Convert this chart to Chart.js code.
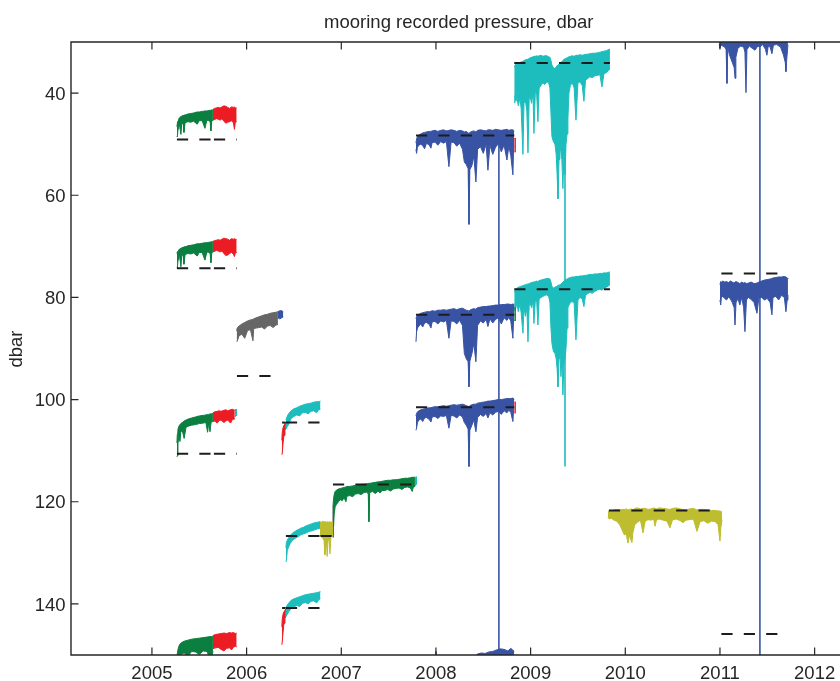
<!DOCTYPE html>
<html><head><meta charset="utf-8">
<script src="https://cdn.jsdelivr.net/npm/chart.js@4.4.0/dist/chart.umd.min.js"></script>
<style>html,body{margin:0;padding:0;background:#fff;overflow:hidden}canvas{display:block}</style>
</head><body>
<canvas id="c" width="840" height="681"></canvas>
<script>
// ---------- labels / ticks ----------
const titleText = 'mooring recorded pressure, dbar';
const yLabel = 'dbar';
const yearTicks = [2005, 2006, 2007, 2008, 2009, 2010, 2011, 2012];
const dbarTicks = [40, 60, 80, 100, 120, 140];

// ---------- 2005 deployment (green -> red) ----------
const tA12g = [2005.264,2005.268,2005.276,2005.284,2005.292,2005.306,2005.315,2005.330,2005.338,2005.350,2005.380,2005.410,2005.440,2005.478,2005.500,2005.530,2005.560,2005.580,2005.600,2005.615,2005.623,2005.632,2005.644];
const hiA1g = [46.6,45.9,45.4,45.0,44.8,44.6,44.5,44.4,44.3,44.3,44.1,44.0,43.9,43.7,43.7,43.6,43.5,43.5,43.4,43.4,43.3,43.3,43.3];
const loA1g = [48.5,48.6,47.0,46.6,46.2,48.1,46.0,45.9,47.7,45.8,45.6,45.7,45.5,46.1,45.4,45.4,46.9,45.3,45.4,45.6,47.4,45.5,45.3];
const hiA2g = [71.4,71.1,70.9,70.7,70.5,70.4,70.3,70.2,70.1,70.1,69.9,69.8,69.7,69.5,69.5,69.4,69.3,69.3,69.2,69.2,69.1,69.1,69.1];
const loA2g = [74.2,74.3,72.6,72.2,71.9,74.0,71.8,71.7,73.5,71.6,71.4,71.5,71.3,71.9,71.2,71.2,72.7,71.1,71.2,71.4,73.2,71.3,71.1];
const tA12r = [2005.644,2005.660,2005.680,2005.700,2005.720,2005.740,2005.760,2005.780,2005.800,2005.820,2005.840,2005.860,2005.872,2005.880,2005.895];
const hiA1r = [43.2,43.0,42.9,42.8,42.9,42.7,42.5,42.6,42.8,43.0,42.7,42.8,42.7,42.9,42.9];
const loA1r = [45.3,45.2,45.0,45.1,45.3,45.0,45.5,45.9,45.7,45.6,45.4,45.8,47.1,45.7,45.6];
const hiA2r = [69.0,68.9,68.8,68.7,68.8,68.6,68.4,68.5,68.6,68.8,68.5,68.6,68.5,68.6,68.7];
const loA2r = [71.1,71.0,70.8,70.9,71.1,70.9,71.4,71.8,71.7,71.4,71.2,71.5,72.0,71.3,71.2];
const tA3g = [2005.264,2005.268,2005.275,2005.285,2005.296,2005.305,2005.320,2005.340,2005.360,2005.384,2005.420,2005.460,2005.500,2005.540,2005.570,2005.588,2005.600,2005.613,2005.625,2005.644];
const hiA3g = [108.5,106.8,105.8,105.2,104.9,104.7,104.5,104.2,104.0,103.8,103.6,103.4,103.2,103.1,103.0,102.9,102.9,102.8,102.8,102.7];
const loA3g = [111.2,111.0,108.6,107.2,108.2,106.4,106.0,107.6,105.4,105.2,105.0,104.9,104.7,104.6,104.5,106.4,104.5,106.3,104.4,104.3];
const tA3r = [2005.644,2005.665,2005.690,2005.710,2005.730,2005.760,2005.780,2005.800,2005.830,2005.850,2005.875];
const hiA3r = [102.6,102.4,102.3,102.2,102.3,102.1,102.0,102.2,102.0,101.9,102.1];
const loA3r = [104.3,104.2,104.6,104.1,104.0,104.5,104.2,104.0,104.6,103.9,103.8];
const tA3c = [2005.875,2005.888,2005.900];
const hiA3c = [102.0,101.9,102.0];
const loA3c = [103.4,103.2,103.0];
const tA4g = [2005.264,2005.275,2005.290,2005.310,2005.340,2005.380,2005.420,2005.460,2005.500,2005.540,2005.580,2005.610,2005.630,2005.644];
const hiA4g = [150.2,148.9,148.0,147.6,147.3,147.1,146.9,146.8,146.7,146.6,146.5,146.4,146.4,146.3];
const loA4g = [151.0,151.0,150.5,149.8,149.6,150.2,149.3,149.4,149.9,149.2,149.3,150.5,151.0,149.2];
const tA4r = [2005.644,2005.670,2005.700,2005.730,2005.760,2005.790,2005.820,2005.840,2005.860,2005.880,2005.895];
const hiA4r = [146.2,146.0,145.9,145.8,145.7,145.8,145.6,145.7,145.6,145.8,145.7];
const loA4r = [148.8,148.6,148.5,148.9,149.2,148.7,148.6,149.0,148.5,148.3,148.4];

// ---------- winter 2005/06 (grey -> blue) ----------
const tBk = [2005.895,2005.900,2005.920,2005.950,2005.980,2006.010,2006.040,2006.067,2006.075,2006.100,2006.130,2006.160,2006.190,2006.220,2006.250,2006.280,2006.310,2006.331];
const hiBk = [86.6,86.0,85.6,85.2,84.9,84.6,84.4,84.3,84.2,84.0,83.8,83.6,83.4,83.3,83.1,83.0,82.9,82.8];
const loBk = [88.7,88.6,87.5,87.2,88.0,86.5,86.3,88.5,86.1,86.0,85.9,85.8,86.2,85.6,85.5,85.9,85.4,85.3];
const tBb = [2006.331,2006.350,2006.370,2006.387];
const hiBb = [82.8,82.6,82.6,82.8];
const loBb = [84.0,84.2,84.0,83.8];

// ---------- 2006 deployment (red -> cyan -> olive) ----------
const tCr = [2006.372,2006.376,2006.385,2006.395,2006.405,2006.415];
const hiC1r = [108.0,106.5,105.5,105.0,104.7,104.4];
const loC1r = [110.8,110.6,108.5,107.0,106.0,105.8];
const hiC3r = [144.5,143.0,142.0,141.5,141.2,141.0];
const loC3r = [148.0,147.5,145.5,143.8,142.8,142.5];
const tCc = [2006.415,2006.430,2006.450,2006.470,2006.500,2006.530,2006.560,2006.590,2006.620,2006.650,2006.680,2006.710,2006.740,2006.760,2006.780];
const hiC1c = [104.0,103.2,102.6,102.2,101.8,101.6,101.3,101.1,100.9,100.8,100.7,100.5,100.4,100.4,100.3];
const loC1c = [105.8,105.3,104.6,103.7,103.3,103.0,103.2,102.6,102.5,102.8,102.3,102.2,102.6,102.0,101.9];
const hiC3c = [140.8,140.2,139.7,139.3,139.0,138.8,138.6,138.4,138.2,138.1,138.0,137.9,137.8,137.7,137.6];
const loC3c = [142.5,142.0,141.4,140.9,140.6,140.3,140.5,139.9,139.7,140.0,139.5,139.4,139.8,139.2,139.0];
const tC2c = [2006.415,2006.420,2006.430,2006.445,2006.460,2006.480,2006.510,2006.540,2006.570,2006.600,2006.630,2006.660,2006.690,2006.720,2006.750,2006.775];
const hiC2c = [129.0,128.0,127.5,127.0,126.6,126.2,125.8,125.5,125.2,125.0,124.7,124.5,124.3,124.1,124.0,123.9];
const loC2c = [131.8,131.5,129.5,128.8,128.2,127.6,127.2,126.9,126.5,126.3,126.1,125.8,125.7,125.5,125.3,125.2];
const tC2o = [2006.775,2006.790,2006.805,2006.818,2006.827,2006.835,2006.843,2006.851,2006.860,2006.870,2006.880,2006.890,2006.900,2006.912];
const hiC2o = [123.9,124.0,123.8,123.9,124.0,123.9,124.0,123.9,124.0,124.0,123.9,124.0,124.0,124.1];
const loC2o = [126.5,126.9,127.2,127.6,130.4,128.0,127.8,130.7,127.5,127.0,130.2,127.0,126.8,126.6];

// ---------- 2007 deployment (green) ----------
const tDg = [2006.912,2006.918,2006.925,2006.935,2006.950,2006.970,2006.990,2007.010,2007.030,2007.049,2007.060,2007.090,2007.120,2007.150,2007.180,2007.210,2007.240,2007.270,2007.285,2007.292,2007.300,2007.330,2007.360,2007.390,2007.408,2007.430,2007.460,2007.490,2007.520,2007.550,2007.580,2007.610,2007.640,2007.670,2007.700,2007.730,2007.750,2007.760,2007.778];
const hiDg = [121.0,119.5,118.6,118.0,117.7,117.5,117.4,117.3,117.2,117.1,117.0,117.0,116.9,116.8,116.7,116.6,116.6,116.5,116.4,116.4,116.4,116.3,116.2,116.1,116.1,116.0,115.9,115.8,115.8,115.7,115.7,115.6,115.5,115.4,115.4,115.3,115.2,115.2,115.2];
const loDg = [125.0,124.8,122.5,121.0,120.5,120.0,119.6,119.8,119.2,120.0,118.9,118.8,119.0,118.5,118.4,118.6,118.2,118.1,118.5,123.9,118.2,118.0,118.4,117.9,118.3,117.8,117.8,117.6,117.9,117.5,117.4,117.3,117.6,117.2,117.1,117.3,118.0,117.2,117.0];
const tDc = [2007.778,2007.790,2007.800];
const hiDc = [115.3,115.1,115.2];
const loDc = [117.0,116.6,116.5];

// ---------- 2008 deployment (blue) ----------
const tE = [2007.789,2007.795,2007.805,2007.820,2007.840,2007.860,2007.880,2007.900,2007.930,2007.947,2007.960,2007.990,2008.020,2008.050,2008.080,2008.110,2008.137,2008.160,2008.190,2008.220,2008.250,2008.280,2008.300,2008.320,2008.340,2008.349,2008.358,2008.380,2008.400,2008.422,2008.440,2008.470,2008.500,2008.530,2008.549,2008.570,2008.600,2008.630,2008.660,2008.690,2008.720,2008.750,2008.770,2008.790,2008.813,2008.820,2008.827];
const hiE1 = [49.8,49.0,48.5,48.2,48.0,47.8,47.7,47.6,47.5,47.5,47.4,47.3,47.5,47.3,47.2,47.4,47.3,47.2,47.3,47.5,47.3,47.4,47.6,47.5,47.8,47.9,47.7,47.5,47.4,47.6,47.3,47.2,47.3,47.4,47.2,47.2,47.3,47.1,47.2,47.3,47.2,47.1,47.3,47.2,47.2,47.3,47.4];
const loE1 = [51.0,51.8,50.6,50.2,50.0,50.3,50.9,49.8,50.2,50.8,49.7,49.6,50.2,49.5,49.8,49.5,54.4,49.6,49.7,50.4,49.8,51.0,53.5,54.0,54.8,65.7,55.0,54.2,52.3,57.4,51.0,50.5,51.8,50.0,55.1,50.2,52.0,50.6,49.9,51.5,50.2,53.1,50.4,52.2,56.0,50.5,50.5];
const hiE2 = [84.2,83.8,83.5,83.3,83.1,83.0,82.9,82.8,82.8,82.7,82.6,82.7,82.5,82.5,82.4,82.5,82.4,82.3,82.2,82.4,82.2,82.1,82.3,82.5,82.6,82.7,82.5,82.3,82.2,82.3,82.0,81.9,81.8,81.8,81.7,81.7,81.6,81.5,81.5,81.4,81.4,81.3,81.3,81.4,81.3,81.3,81.4];
const loE2 = [88.7,86.8,86.0,85.6,85.2,85.8,85.0,84.9,85.3,86.0,84.8,84.7,85.2,84.6,84.8,84.5,88.0,84.6,84.7,85.2,84.5,85.5,91.0,92.0,92.6,97.5,92.5,91.0,89.0,92.6,85.5,84.6,85.0,84.3,85.7,84.2,85.0,84.3,84.0,85.2,84.0,84.5,83.9,84.6,88.0,84.0,83.9];
const hiE3 = [103.2,102.7,102.4,102.2,102.0,101.9,101.8,101.7,101.6,101.6,101.5,101.4,101.4,101.3,101.2,101.3,101.2,101.1,101.0,101.1,101.0,100.9,101.0,101.2,101.3,101.4,101.2,101.0,100.9,100.9,100.7,100.6,100.5,100.4,100.3,100.3,100.2,100.1,100.0,100.0,99.9,99.8,99.8,99.8,99.7,99.8,99.9];
const loE3 = [106.0,105.6,104.5,104.0,103.8,104.3,103.6,103.5,103.9,104.4,103.4,103.3,103.7,103.2,103.3,103.1,105.6,103.1,103.2,103.6,103.0,103.4,104.5,105.0,105.8,113.1,106.0,105.0,104.0,106.3,103.5,102.9,103.3,102.7,103.6,102.6,103.0,102.5,102.3,102.9,102.2,102.6,102.1,102.5,104.3,102.0,101.9];
const tE4 = [2007.990,2008.000,2008.010,2008.040,2008.100,2008.200,2008.300,2008.400,2008.440,2008.480,2008.520,2008.560,2008.600,2008.640,2008.680,2008.720,2008.760,2008.790,2008.810,2008.827];
const hiE4 = [150.5,149.3,150.5,150.6,150.8,150.6,150.5,150.4,149.8,149.6,149.7,149.4,149.3,149.0,148.8,148.9,149.2,148.7,149.0,149.3];
const loE4 = [151.6,151.8,151.5,151.9,152.0,151.7,151.8,151.6,151.9,151.7,151.8,151.6,151.5,151.7,151.8,151.6,151.9,151.5,151.7,151.8];
const tEend = [2008.827,2008.845];
const hiE1end = [48.9,48.9];
const loE1end = [51.5,51.5];
const hiE2end = [82.0,82.0];
const loE2end = [84.5,84.5];
const hiE3end = [100.5,100.5];
const loE3end = [102.6,102.6];

// ---------- 2009 deployment (cyan) ----------
const tF = [2008.827,2008.835,2008.845,2008.855,2008.870,2008.887,2008.900,2008.919,2008.930,2008.945,2008.960,2008.972,2008.985,2008.993,2009.010,2009.025,2009.035,2009.050,2009.065,2009.077,2009.090,2009.110,2009.130,2009.150,2009.172,2009.190,2009.204,2009.215,2009.225,2009.240,2009.257,2009.270,2009.280,2009.289,2009.300,2009.310,2009.320,2009.330,2009.341,2009.352,2009.363,2009.374,2009.385,2009.394,2009.405,2009.420,2009.440,2009.460,2009.479,2009.500,2009.521,2009.545,2009.563,2009.580,2009.600,2009.627,2009.650,2009.680,2009.710,2009.732,2009.753,2009.775,2009.800,2009.820,2009.838];
const hiF1 = [34.8,34.5,34.3,34.4,34.2,34.0,33.9,33.8,33.6,33.5,33.4,33.4,33.2,33.1,33.0,32.9,32.8,32.8,32.7,32.8,32.7,32.6,32.8,32.7,32.7,32.9,33.0,33.6,34.5,35.0,35.2,34.9,34.6,34.5,34.4,34.2,34.0,33.8,33.6,33.4,33.3,33.2,33.1,33.0,32.9,32.8,32.7,32.8,32.6,32.6,32.5,32.6,32.5,32.4,32.4,32.3,32.2,32.2,32.1,32.0,31.9,31.8,31.7,31.5,31.4];
const loF1 = [41.9,40.5,41.6,40.8,42.5,41.0,43.0,52.0,42.0,41.5,43.5,51.7,41.0,40.5,42.0,40.0,47.9,39.5,40.5,45.6,39.0,38.5,38.0,38.3,37.8,38.0,39.0,44.0,48.5,49.5,50.0,52.0,56.0,60.7,53.0,50.5,51.5,53.0,58.7,52.0,56.0,50.0,48.0,45.0,40.0,38.5,38.0,39.0,45.3,38.0,37.8,38.5,41.6,37.5,37.2,36.8,37.0,36.6,36.5,36.4,38.8,36.2,36.0,35.6,35.3];
const hiF2 = [78.9,78.6,78.4,78.2,78.0,77.9,77.8,77.7,77.6,77.5,77.4,77.4,77.3,77.2,77.1,77.0,77.0,76.9,76.8,76.9,76.7,76.6,76.5,76.4,76.3,76.3,76.4,77.0,77.8,78.2,78.0,77.9,77.8,77.6,77.6,77.5,77.4,77.2,77.0,76.8,76.6,76.5,76.4,76.3,76.2,76.1,76.0,76.0,75.9,75.9,75.8,75.8,75.7,75.7,75.6,75.5,75.5,75.4,75.4,75.3,75.3,75.2,75.2,75.1,75.0];
const loF2 = [82.5,81.5,82.0,81.0,82.8,81.3,83.0,87.0,82.0,83.7,82.0,88.7,81.5,81.0,82.0,80.8,85.1,80.5,81.0,85.4,80.3,80.0,79.8,79.6,79.5,79.8,81.0,86.0,89.0,90.5,91.0,92.0,94.0,97.5,92.0,91.0,95.5,92.0,99.1,93.0,92.0,90.0,86.0,82.0,81.5,81.0,80.8,81.2,88.3,80.5,80.0,80.3,81.8,79.6,79.3,79.0,79.2,78.8,78.5,78.4,78.6,78.2,78.0,77.8,77.5];

// ---------- 2010 deployment (olive) ----------
const tG = [2009.817,2009.830,2009.850,2009.880,2009.910,2009.940,2009.965,2009.990,2010.010,2010.028,2010.045,2010.060,2010.070,2010.081,2010.100,2010.130,2010.160,2010.187,2010.210,2010.240,2010.270,2010.300,2010.314,2010.330,2010.360,2010.400,2010.440,2010.472,2010.500,2010.540,2010.580,2010.609,2010.640,2010.680,2010.720,2010.757,2010.790,2010.830,2010.870,2010.910,2010.950,2010.980,2011.000,2011.010,2011.022];
const hiG = [121.9,121.8,121.8,121.6,121.5,121.6,121.5,121.5,121.4,121.6,121.5,121.4,121.5,121.6,121.3,121.2,121.4,121.3,121.3,121.5,121.4,121.2,121.3,121.4,121.2,121.3,121.4,121.5,121.3,121.2,121.4,121.5,121.6,121.4,121.3,121.6,121.5,121.5,121.6,121.7,121.7,121.8,121.8,121.9,122.0];
const loG = [123.0,123.4,123.2,123.6,123.8,124.5,125.5,126.5,126.3,128.1,126.5,127.5,128.0,126.0,124.5,124.0,123.6,126.1,123.8,123.5,123.6,123.4,124.8,123.5,123.4,123.6,123.8,125.1,123.5,123.4,123.7,124.1,123.6,123.5,123.4,125.8,123.9,123.7,124.2,123.8,123.9,124.5,127.7,125.0,123.5];

// ---------- 2011 deployment (blue) ----------
const tH1 = [2010.992,2011.000,2011.010,2011.030,2011.050,2011.065,2011.074,2011.083,2011.100,2011.130,2011.150,2011.159,2011.168,2011.190,2011.220,2011.250,2011.264,2011.275,2011.285,2011.310,2011.340,2011.370,2011.400,2011.422,2011.450,2011.480,2011.496,2011.510,2011.530,2011.549,2011.565,2011.600,2011.640,2011.670,2011.690,2011.697,2011.705,2011.718];
const hiH1 = [28.6,28.4,28.5,28.3,28.6,28.4,28.5,28.4,28.6,28.3,28.5,28.4,28.6,28.5,28.3,28.4,28.6,28.5,28.4,28.3,28.5,28.6,28.4,28.5,28.3,28.4,28.6,28.5,28.4,28.3,28.5,28.4,28.6,28.5,28.3,28.4,28.5,28.6];
const loH1 = [30.5,31.2,30.6,30.8,31.0,31.5,38.1,31.0,32.5,34.0,35.0,37.1,33.0,31.2,30.8,31.0,32.0,39.9,31.5,30.8,31.2,31.6,30.8,31.0,30.5,31.4,32.6,30.8,31.0,32.3,30.6,30.5,31.0,32.5,34.0,35.8,33.5,30.5];
const tH2 = [2011.000,2011.008,2011.015,2011.030,2011.050,2011.070,2011.090,2011.110,2011.130,2011.150,2011.159,2011.170,2011.190,2011.210,2011.230,2011.250,2011.264,2011.280,2011.300,2011.330,2011.360,2011.391,2011.410,2011.440,2011.470,2011.500,2011.530,2011.549,2011.560,2011.590,2011.620,2011.650,2011.680,2011.697,2011.710,2011.718];
const hiH2 = [77.5,76.9,77.0,76.8,77.0,76.9,77.1,76.8,77.0,77.2,77.0,76.9,77.1,77.3,77.0,77.2,77.1,77.3,77.2,77.0,77.3,77.2,77.0,76.8,76.6,76.5,76.4,76.3,76.2,76.1,76.0,76.0,75.9,76.0,76.2,76.3];
const loH2 = [80.5,81.5,80.0,79.8,80.2,80.5,79.9,80.3,81.0,82.0,85.4,81.0,80.2,81.5,80.0,82.0,86.7,80.5,80.0,80.4,81.0,83.1,80.2,80.0,80.5,80.2,81.0,83.4,80.0,79.8,80.5,79.6,80.0,82.8,80.5,79.5];

// ---------- single-sample spikes (vertical traces) ----------
const spikeT    = [2008.665, 2009.363, 2011.422, 2006.915];
const spikeFrom = [50.0, 34.0, 28.0, 121.0];
const spikeTo   = [152.0, 113.1, 152.0, 127.0];
const spikeSeries = ['blue', 'cyan', 'blue', 'gray'];

// ---------- nominal instrument depths (dashed) ----------
const nomStart = [2005.264,2005.655,2005.264,2005.655,2005.264,2005.655,2005.898,2006.375,2006.415,2006.415,2006.780,2006.375,2006.415,2006.912,2007.789,2007.789,2007.789,2008.827,2008.827,2009.827,2011.015,2011.015];
const nomEnd   = [2005.623,2005.898,2005.623,2005.898,2005.623,2005.898,2006.331,2006.412,2006.780,2006.780,2006.918,2006.412,2006.780,2007.780,2008.827,2008.827,2008.827,2009.838,2009.838,2011.010,2011.720,2011.720];
const nomDepth = [49.1,49.1,74.3,74.3,110.6,110.6,95.4,104.5,104.5,126.7,126.7,140.8,140.8,116.6,48.3,83.4,101.5,34.1,78.4,121.7,75.3,145.9];

// ---------- styling / assembly ----------
const COL = {green:'#0a7f3f', red:'#ec1c24', cyan:'#1dbdbd', blue:'#3853a4', gray:'#666666', olive:'#bdbd2f'};
const segments = [
  [tA12g, hiA1g, loA1g, 'green'], [tA12r, hiA1r, loA1r, 'red'],
  [tA12g, hiA2g, loA2g, 'green'], [tA12r, hiA2r, loA2r, 'red'],
  [tA3g, hiA3g, loA3g, 'green'], [tA3r, hiA3r, loA3r, 'red'], [tA3c, hiA3c, loA3c, 'cyan'],
  [tA4g, hiA4g, loA4g, 'green'], [tA4r, hiA4r, loA4r, 'red'],
  [tBk, hiBk, loBk, 'gray'], [tBb, hiBb, loBb, 'blue'],
  [tCr, hiC1r, loC1r, 'red'], [tCc, hiC1c, loC1c, 'cyan'],
  [tCr, hiC3r, loC3r, 'red'], [tCc, hiC3c, loC3c, 'cyan'],
  [tC2c, hiC2c, loC2c, 'cyan'], [tC2o, hiC2o, loC2o, 'olive'],
  [tDg, hiDg, loDg, 'green'], [tDc, hiDc, loDc, 'cyan'],
  [tE, hiE1, loE1, 'blue'], [tE, hiE2, loE2, 'blue'], [tE, hiE3, loE3, 'blue'], [tE4, hiE4, loE4, 'blue'],
  [tEend, hiE1end, loE1end, 'red'], [tEend, hiE2end, loE2end, 'green'], [tEend, hiE3end, loE3end, 'red'],
  [tF, hiF1, loF1, 'cyan'], [tF, hiF2, loF2, 'cyan'],
  [tG, hiG, loG, 'olive'],
  [tH1, hiH1, loH1, 'blue'], [tH2, hiH2, loH2, 'blue']
];

function pts(t, v) { return t.map((x, i) => ({x: x, y: v[i]})); }
const datasets = [];
nomStart.forEach((s, i) => {
  datasets.push({data: [{x: s, y: nomDepth[i]}, {x: nomEnd[i], y: nomDepth[i]}],
    borderColor: '#1c1c1c', borderWidth: 2, borderDash: [11.2, 11.2], fill: false, order: 0, clip: 0});
});
segments.forEach(([t, hi, lo, c]) => {
  datasets.push({data: pts(t, hi), borderColor: COL[c], borderWidth: 1, fill: false, order: 1, clip: 0});
  datasets.push({data: pts(t, lo), borderColor: COL[c], backgroundColor: COL[c], borderWidth: 1, fill: '-1', order: 1, clip: 0});
});
spikeT.forEach((t, i) => {
  datasets.push({data: [{x: t, y: spikeFrom[i]}, {x: t, y: spikeTo[i]}],
    borderColor: COL[spikeSeries[i]], borderWidth: 1.6, fill: false, order: 2, clip: 0});
});

const FONT = '"Liberation Sans", Arial, Helvetica, sans-serif';
const TXT = '#262626';

const framePlugin = {
  id: 'frame',
  afterDraw(chart) {
    const {ctx, chartArea: a, scales: {x, y}} = chart;
    ctx.save();
    ctx.strokeStyle = TXT;
    ctx.lineWidth = 1.4;
    ctx.beginPath();
    ctx.moveTo(a.right + 2, a.top); ctx.lineTo(a.left, a.top);
    ctx.lineTo(a.left, a.bottom); ctx.lineTo(a.right + 2, a.bottom);
    ctx.stroke();
    ctx.lineWidth = 1.2;
    ctx.beginPath();
    yearTicks.forEach(v => {
      const p = x.getPixelForValue(v);
      ctx.moveTo(p, a.top); ctx.lineTo(p, a.top + 7.5);
      ctx.moveTo(p, a.bottom); ctx.lineTo(p, a.bottom - 7.5);
    });
    dbarTicks.forEach(v => {
      const p = y.getPixelForValue(v);
      ctx.moveTo(a.left, p); ctx.lineTo(a.left + 7.5, p);
    });
    ctx.stroke();
    ctx.fillStyle = TXT;
    ctx.font = '18.5px ' + FONT;
    ctx.textAlign = 'center';
    ctx.textBaseline = 'alphabetic';
    ctx.fillText(titleText, 458.8, 27.5);
    ctx.translate(21.7, 349);
    ctx.rotate(-Math.PI / 2);
    ctx.fillText(yLabel, 0, 0);
    ctx.restore();
  }
};

new Chart(document.getElementById('c').getContext('2d'), {
  type: 'line',
  data: {datasets},
  options: {
    responsive: false,
    animation: false,
    devicePixelRatio: 1,
    events: [],
    layout: {padding: {top: 42, right: 0, bottom: 0, left: 0}},
    elements: {point: {radius: 0, hitRadius: 0, hoverRadius: 0}, line: {tension: 0}},
    plugins: {legend: {display: false}, tooltip: {enabled: false}, title: {display: false}},
    scales: {
      x: {
        type: 'linear', min: 2004.145, max: 2012.268,
        grid: {display: false, drawTicks: false}, border: {display: false},
        afterBuildTicks: s => { s.ticks = yearTicks.map(v => ({value: v})); },
        afterFit: s => { s.height = 26; s.paddingLeft = 0; s.paddingRight = 0; },
        ticks: {autoSkip: false, maxRotation: 0, padding: 7.5, color: TXT,
          font: {family: FONT, size: 18.5}, callback: v => String(v)}
      },
      y: {
        type: 'linear', reverse: true, min: 30, max: 150,
        grid: {display: false, drawTicks: false}, border: {display: false},
        afterBuildTicks: s => { s.ticks = dbarTicks.map(v => ({value: v})); },
        afterFit: s => { s.width = 71; s.paddingTop = 0; s.paddingBottom = 0; },
        ticks: {padding: 5.5, labelOffset: 1.5, color: TXT, font: {family: FONT, size: 18.5}, callback: v => String(v)}
      }
    }
  },
  plugins: [framePlugin]
});
</script>
</body></html>
